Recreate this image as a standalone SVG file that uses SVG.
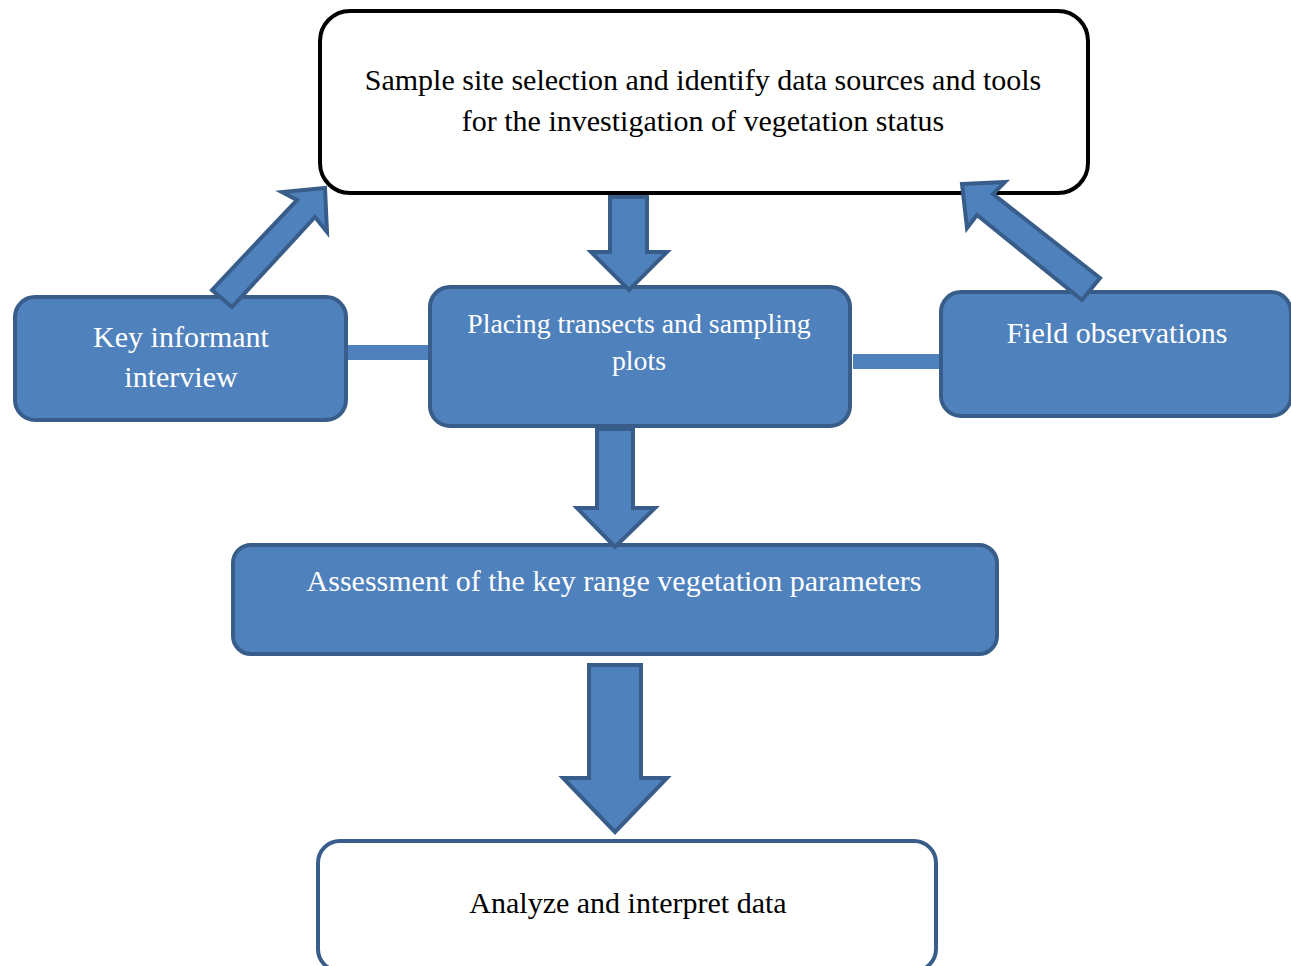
<svg xmlns="http://www.w3.org/2000/svg" width="1291" height="966" viewBox="0 0 1291 966">
<style>
.blue{fill:#4f81bd;stroke:#385d8a;stroke-width:4}
.white{fill:#fff;stroke:#000;stroke-width:4}
.whiteb{fill:#fff;stroke:#385d8a;stroke-width:4}
.arr{fill:#4f81bd;stroke:#385d8a;stroke-width:4;stroke-linejoin:miter}
.bar{fill:#4f81bd}
text{font-family:"Liberation Serif","Times New Roman",serif;text-anchor:middle}
.tw{fill:#fff}
.tb{fill:#000}
</style>
<rect width="1291" height="966" fill="#fff"/>
<g id="node-top">
<rect class="white" x="320" y="11" width="768" height="182" rx="30"/>
<text class="tb" x="703" y="90" font-size="30">Sample site selection and identify data sources and tools</text>
<text class="tb" x="703" y="131" font-size="30">for the investigation of vegetation status</text>
</g>
<g id="node-key">
<rect class="blue" x="15" y="297" width="331" height="123" rx="20"/>
<text class="tw" x="181" y="347" font-size="30">Key informant</text>
<text class="tw" x="181" y="387" font-size="30">interview</text>
</g>
<g id="node-placing">
<rect class="blue" x="430" y="287" width="420" height="139" rx="20"/>
<text class="tw" x="639" y="333" font-size="27.8">Placing transects and sampling</text>
<text class="tw" x="639" y="370" font-size="27.8">plots</text>
</g>
<g id="node-field">
<rect class="blue" x="941" y="292" width="350" height="124" rx="20"/>
<text class="tw" x="1117" y="343" font-size="30">Field observations</text>
</g>
<g id="node-assess">
<rect class="blue" x="233" y="545" width="764" height="109" rx="18"/>
<text class="tw" x="614" y="591" font-size="30">Assessment of the key range vegetation parameters</text>
</g>
<g id="node-analyze">
<rect class="whiteb" x="318" y="841" width="618" height="130" rx="22"/>
<text class="tb" x="628" y="913" font-size="30">Analyze and interpret data</text>
</g>
<g id="connectors">
<rect class="bar" x="348" y="345" width="80" height="15"/>
<rect class="bar" x="853" y="354" width="86" height="15"/>
<polygon class="arr" points="610,197 647,197 647,252 667,252 629,290 591,252 610,252"/>
<polygon class="arr" points="597,429 633,429 633,508 655,508 615,547 577,508 597,508"/>
<polygon class="arr" points="589,665 641,665 641,778 667,778 615,832 563,778 589,778"/>
<polygon class="arr" points="212,290 297,200 282,192 325,188 327,232 315,217 232,307"/>
<polygon class="arr" points="962,184 1005,182 993,194 1100,278 1082,300 977,215 967,228"/>
</g>
</svg>
